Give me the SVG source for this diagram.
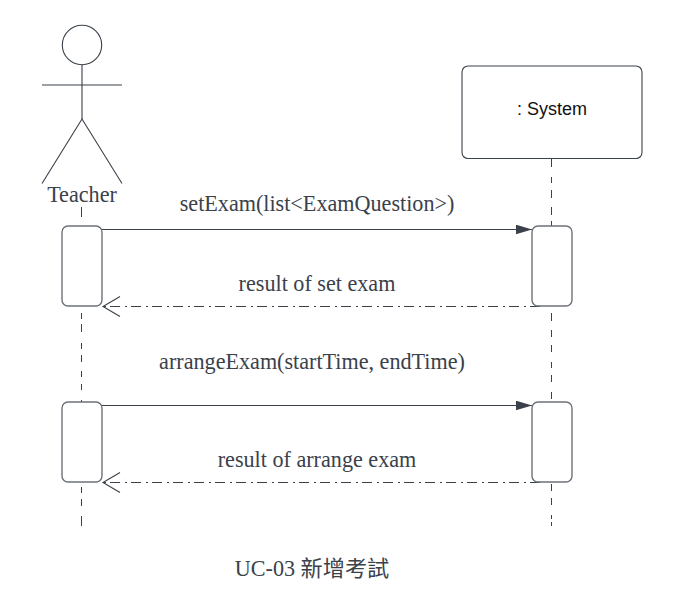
<svg xmlns="http://www.w3.org/2000/svg" width="674" height="610" viewBox="0 0 674 610">
<style>
.s{fill:none;stroke:#3a414a;stroke-width:1.1}
.box{fill:#fff;stroke:#6d7278;stroke-width:1.4}
.life{fill:none;stroke:#3a414a;stroke-width:1}
.ret{fill:none;stroke:#3a414a;stroke-width:1.1;stroke-dasharray:10 4 2 5}
text{font-family:"Liberation Serif","Noto Sans CJK TC",serif;fill:#3a414a;font-size:22.150px;text-anchor:middle}
</style>
<defs>
<marker id="solid" markerUnits="userSpaceOnUse" markerWidth="18" markerHeight="12" refX="16.500" refY="5" orient="auto"><path d="M0 0L16.500 5L0 10Z" fill="#3a414a"/></marker>
</defs>
<rect width="674" height="610" fill="#fff"/>
<g id="connectors">
<path class="life" d="M81.500 207V217M81.500 313V319M81.500 324V332M81.500 343V349M81.500 355V362M81.500 371V377M81.500 384V390M81.500 400V402M81.500 487V493M81.500 499V506M81.500 516V526"/>
<path class="life" d="M551.500 158V167M551.500 177V183M551.500 190V198M551.500 207V215M551.500 221V226M551.500 313V321M551.500 330V337M551.500 345V352M551.500 362V368M551.500 375V382M551.500 392V399M551.500 484V491M551.500 498V505M551.500 515V519M551.500 522V526"/>
<path class="s" d="M102 229.500H532" marker-end="url(#solid)"/>
<path class="ret" d="M540 306.500H103"/>
<path class="s" d="M120 296.500L103 306.500L120 316.500"/>
<path class="s" d="M102 405.500H532" marker-end="url(#solid)"/>
<path class="ret" d="M540 482.500H103"/>
<path class="s" d="M120 472.500L103 482.500L120 492.500"/>
</g>
<g id="teacher">
<circle class="s" cx="82" cy="45" r="19.700"/>
<path class="s" d="M42 85H122"/>
<path class="s" d="M82 65V119"/>
<path class="s" d="M42 183.500L82 119L122 183.500"/>
<text x="82" y="202">Teacher</text>
</g>
<g id="system">
<rect class="s" x="462" y="66" width="180" height="92.500" rx="6"/>
<text x="552" y="115" style="font-family:'Liberation Sans',sans-serif;font-size:18px;fill:#111">: System</text>
</g>
<g id="activation-teacher-1"><rect class="box" x="62" y="226" width="40" height="80" rx="6"/></g>
<g id="activation-system-1"><rect class="box" x="532" y="226" width="40" height="80" rx="6"/></g>
<g id="activation-teacher-2"><rect class="box" x="62" y="402" width="40" height="80" rx="6"/></g>
<g id="activation-system-2"><rect class="box" x="532" y="402" width="40" height="80" rx="6"/></g>
<g id="labels">
<text x="317" y="211">setExam(list&lt;ExamQuestion&gt;)</text>
<text x="317" y="290.500">result of set exam</text>
<text x="312" y="368.500">arrangeExam(startTime, endTime)</text>
<text x="317" y="466.500">result of arrange exam</text>
<text x="312" y="576">UC-03 新增考試</text>
</g>
</svg>
